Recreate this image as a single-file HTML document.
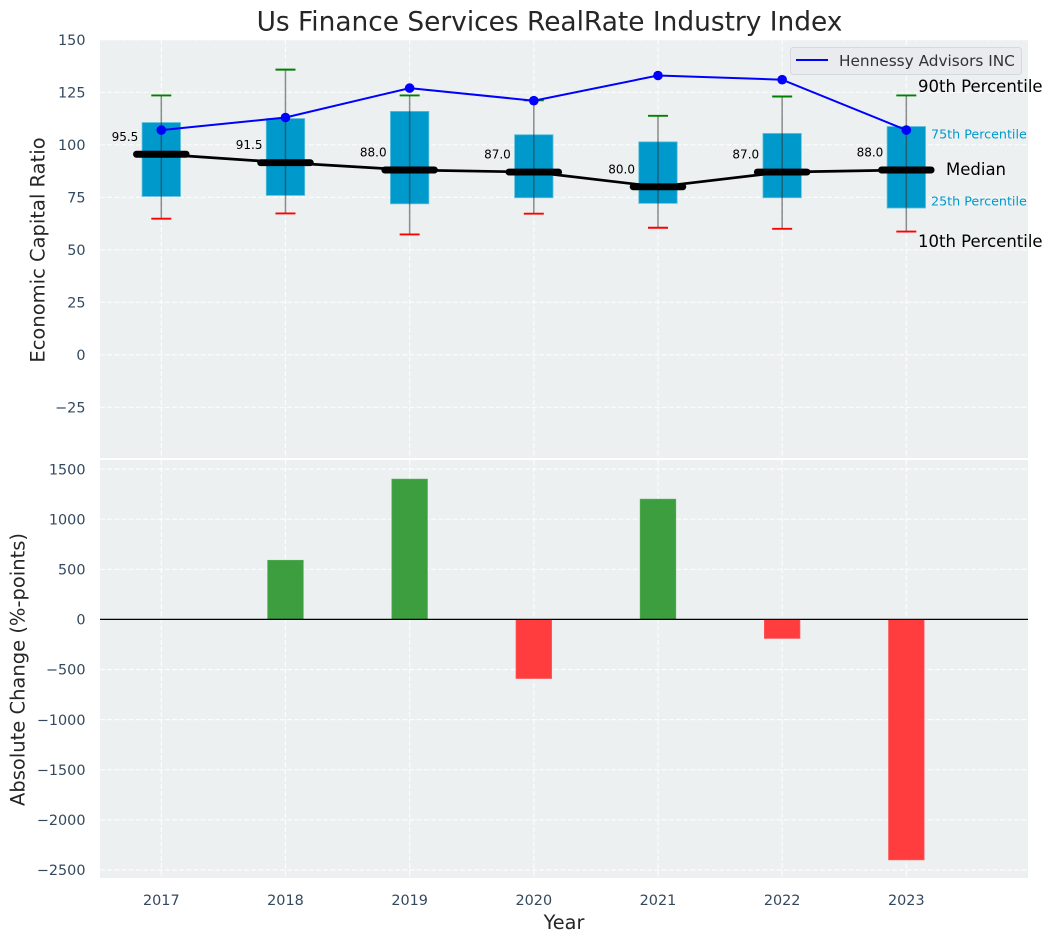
<!DOCTYPE html>
<html lang="en">
<head>
<meta charset="utf-8">
<title>Us Finance Services RealRate Industry Index</title>
<style>
html,body{margin:0;padding:0;background:#fff;}
svg{display:block;font-family:"DejaVu Sans","Liberation Sans",sans-serif;}
</style>
</head>
<body>
<svg id="chart" xmlns="http://www.w3.org/2000/svg" width="1053" height="942" viewBox="0 0 1053 942">
  <defs>
    <clipPath id="top-clip"><rect x="100" y="40" width="928" height="418"/></clipPath>
    <clipPath id="bottom-clip"><rect x="100" y="460" width="928" height="418"/></clipPath>
  </defs>
  <rect x="100" y="40" width="928" height="418" fill="#ecf0f1"/>
  <rect x="100" y="460" width="928" height="418" fill="#ecf0f1"/>
  <g id="top-grid" clip-path="url(#top-clip)"></g>
  <g id="bottom-grid" clip-path="url(#bottom-clip)"></g>
  <g id="bars" clip-path="url(#bottom-clip)"></g>
  <line x1="100" x2="1028" y1="619.4" y2="619.4" stroke="#000" stroke-width="1.3"/>
  <g id="boxes"></g>
  <g id="medians"></g>
  <g id="company"></g>
  <g id="value-labels"></g>
  <g id="ticks" fill="#34495e" font-size="14.4"></g>

  <text x="549.5" y="30.500" text-anchor="middle" font-size="26.4" fill="#262626">Us Finance Services RealRate Industry Index</text>
  <text transform="translate(44.500 250) rotate(-90)" text-anchor="middle" font-size="19.500" fill="#262626">Economic Capital Ratio</text>
  <text transform="translate(24.500 669.5) rotate(-90)" text-anchor="middle" font-size="19.500" fill="#262626">Absolute Change (%-points)</text>
  <text x="564" y="929" text-anchor="middle" font-size="19.300" fill="#262626">Year</text>

  <g>
    <rect x="790.5" y="47.5" width="231" height="27" rx="3" fill="#e9ebef" stroke="#d5d8dc"/>
    <line x1="796" x2="828" y1="60" y2="60" stroke="#0000ff" stroke-width="2"/>
    <text x="839" y="66" font-size="15.300" fill="#333">Hennessy Advisors INC</text>
  </g>

  <text x="918" y="92" font-size="16.500" fill="#000">90th Percentile</text>
  <text x="931" y="138.500" font-size="12.700" fill="#0099cc">75th Percentile</text>
  <text x="946" y="175" font-size="16.500" fill="#000">Median</text>
  <text x="931" y="205.500" font-size="12.700" fill="#0099cc">25th Percentile</text>
  <text x="918" y="247" font-size="16.500" fill="#000">10th Percentile</text>
</svg>
<script>
const years = [2017, 2018, 2019, 2020, 2021, 2022, 2023];
const p90 = [123.5, 135.8, 123.5, 121.2, 113.8, 123, 123.5];
const p75 = [110.6, 112.5, 115.9, 104.8, 101.4, 105.4, 108.7];
const medianValues = [95.5, 91.5, 88, 87, 80, 87, 88];
const p25 = [75.4, 75.9, 71.9, 74.8, 72.1, 74.8, 69.9];
const p10 = [64.8, 67.3, 57.3, 67.2, 60.5, 60, 58.7];
const companyValues = [107, 113, 127, 121, 133, 131, 107];
const changeValues = [0, 590, 1400, -590, 1200, -190, -2400];
const topTicks = [150, 125, 100, 75, 50, 25, 0, -25];
const bottomTicks = [1500, 1000, 500, 0, -500, -1000, -1500, -2000, -2500];

const SVG_NS = 'http://www.w3.org/2000/svg';
function xScale(year) { return 161.3 + (year - 2017) * 124.17; }
function yTop(value) { return 354.8 - value * 2.1; }
function yBottom(value) { return 619.4 - value * 0.1002; }
function make(tag, parentId, props) {
  const node = document.createElementNS(SVG_NS, tag);
  for (const key in props) node.setAttribute(key, props[key]);
  document.getElementById(parentId).appendChild(node);
  return node;
}
function tickText(value) { return String(value).replace('-', '\u2212'); }
const GRID = { stroke: '#ffffff', 'stroke-width': 1.2, 'stroke-dasharray': '5 2.2', 'stroke-opacity': 0.85 };

topTicks.forEach(function (value) {
  const y = yTop(value);
  const grid = make('line', 'top-grid', Object.assign({ x1: 100, x2: 1028, y1: y, y2: y }, GRID));
  
  
  const label = make('text', 'ticks', { x: 85.5, y: y + 5.2, 'text-anchor': 'end' });
  label.textContent = tickText(value);
  
  
});

bottomTicks.forEach(function (value) {
  const y = yBottom(value);
  const grid = make('line', 'bottom-grid', Object.assign({ x1: 100, x2: 1028, y1: y, y2: y }, GRID));
  
  
  const label = make('text', 'ticks', { x: 85.5, y: y + 5.2, 'text-anchor': 'end' });
  label.textContent = tickText(value);
  
  
});

years.forEach(function (year) {
  const x = xScale(year);
  const topGrid = make('line', 'top-grid', Object.assign({ x1: x, x2: x, y1: 40, y2: 458 }, GRID));
  
  
  const bottomGrid = make('line', 'bottom-grid', Object.assign({ x1: x, x2: x, y1: 460, y2: 878 }, GRID));
  
  
  const label = make('text', 'ticks', { x: x, y: 905, 'text-anchor': 'middle' });
  label.textContent = String(year);
  
  
});

changeValues.forEach(function (value, i) {
  if (value === 0) return;
  const x = xScale(years[i]);
  const y0 = yBottom(0);
  const y1 = yBottom(value);
  const bar = make('rect', 'bars', {
    x: x - 17.8, width: 35.6, y: Math.min(y0, y1), height: Math.abs(y1 - y0),
    fill: value > 0 ? '#3c9e3e' : '#ff3c3e',
    stroke: value > 0 ? '#56aa58' : '#ff5a5c', 'stroke-width': 0.7
  });
  
  
});

years.forEach(function (year, i) {
  const x = xScale(year);
  const box = make('rect', 'boxes', {
    x: x - 19.2, width: 38.4, y: yTop(p75[i]), height: yTop(p25[i]) - yTop(p75[i]),
    fill: '#0099cc', stroke: '#5cbfdc', 'stroke-width': 0.8
  });
  
  
  const whisker = make('line', 'boxes', {
    x1: x, x2: x, y1: yTop(p90[i]), y2: yTop(p10[i]),
    stroke: '#333333', 'stroke-width': 1.5, 'stroke-opacity': 0.55
  });
  
  
  const capTop = make('line', 'boxes', {
    x1: x - 10, x2: x + 10, y1: yTop(p90[i]), y2: yTop(p90[i]),
    stroke: '#008000', 'stroke-width': 1.9
  });
  
  
  const capBottom = make('line', 'boxes', {
    x1: x - 10, x2: x + 10, y1: yTop(p10[i]), y2: yTop(p10[i]),
    stroke: '#ff0000', 'stroke-width': 1.9
  });
  
  
});

const medianLine = make('polyline', 'medians', {
  points: years.map(function (year, i) { return xScale(year) + ',' + yTop(medianValues[i]); }).join(' '),
  fill: 'none', stroke: '#000', 'stroke-width': 2.7
});



years.forEach(function (year, i) {
  const x = xScale(year);
  const y = yTop(medianValues[i]);
  const bar = make('line', 'medians', {
    x1: x - 24.8, x2: x + 24.8, y1: y, y2: y,
    stroke: '#000', 'stroke-width': 6.9, 'stroke-linecap': 'round'
  });
  
  
  const label = make('text', 'value-labels', {
    x: x - 23, y: y - 13.5, 'text-anchor': 'end', 'font-size': 12, fill: '#000'
  });
  label.textContent = medianValues[i].toFixed(1);
  
  
});

const companyLine = make('polyline', 'company', {
  points: years.map(function (year, i) { return xScale(year) + ',' + yTop(companyValues[i]); }).join(' '),
  fill: 'none', stroke: '#0000ff', 'stroke-width': 2
});



years.forEach(function (year, i) {
  const dot = make('circle', 'company', {
    cx: xScale(year), cy: yTop(companyValues[i]), r: 4.8, fill: '#0000ff'
  });
  
  
});
</script>
</body>
</html>
